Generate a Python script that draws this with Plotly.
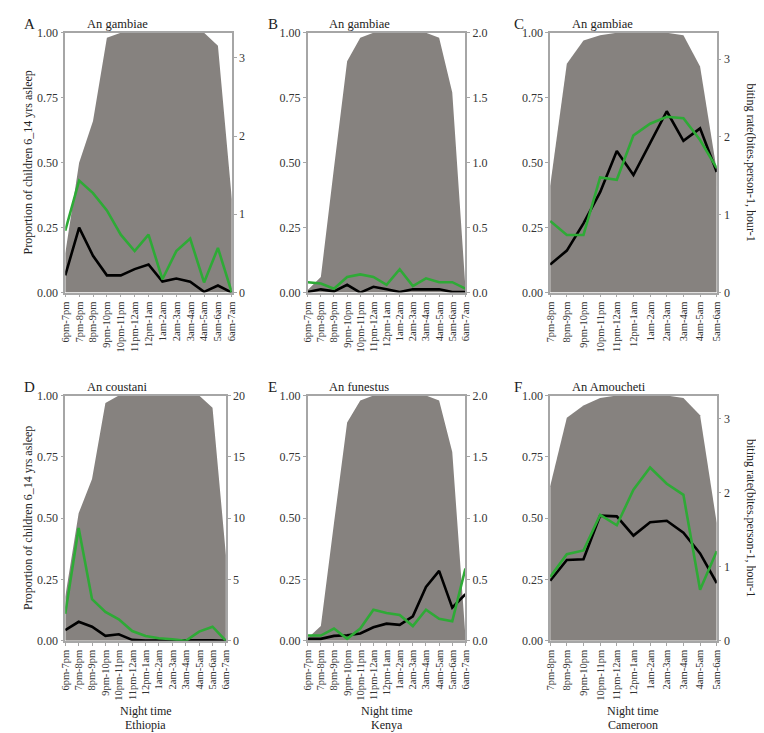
import plotly.graph_objects as go

W, H = 764, 733

cats_13 = ["6pm-7pm", "7pm-8pm", "8pm-9pm", "9pm-10pm", "10pm-11pm", "11pm-12am",
           "12pm-1am", "1am-2am", "2am-3am", "3am-4am", "4am-5am", "5am-6am", "6am-7am"]
cats_11 = ["7pm-8pm", "8pm-9pm", "9pm-10pm", "10pm-11pm", "11pm-12am",
           "12pm-1am", "1am-2am", "2am-3am", "3am-4am", "4am-5am", "5am-6am"]

# proportion of children asleep (left axis)
asleep_A = [0.15, 0.50, 0.66, 0.98, 1.0, 1.0, 1.0, 1.0, 1.0, 1.0, 1.0, 0.95, 0.36]
asleep_B = [0.01, 0.06, 0.48, 0.89, 0.98, 1.0, 1.0, 1.0, 1.0, 1.0, 0.98, 0.77, 0.02]
asleep_C = [0.41, 0.88, 0.97, 0.99, 1.0, 1.0, 1.0, 1.0, 0.99, 0.87, 0.47]
asleep_D = [0.18, 0.52, 0.66, 0.97, 1.0, 1.0, 1.0, 1.0, 1.0, 1.0, 1.0, 0.95, 0.35]
asleep_E = [0.01, 0.06, 0.48, 0.89, 0.98, 1.0, 1.0, 1.0, 1.0, 1.0, 0.98, 0.77, 0.02]
asleep_F = [0.63, 0.91, 0.96, 0.99, 1.0, 1.0, 1.0, 1.0, 0.99, 0.92, 0.48]

# biting rates (right axis)
green_A = [0.79, 1.43, 1.27, 1.05, 0.74, 0.53, 0.74, 0.17, 0.53, 0.69, 0.13, 0.57, 0.0]
black_A = [0.22, 0.83, 0.47, 0.22, 0.22, 0.30, 0.36, 0.14, 0.18, 0.14, 0.01, 0.09, 0.0]
green_B = [0.08, 0.07, 0.03, 0.12, 0.14, 0.12, 0.06, 0.18, 0.05, 0.11, 0.08, 0.08, 0.03]
black_B = [0.005, 0.025, 0.01, 0.06, 0.0, 0.045, 0.025, 0.005, 0.025, 0.025, 0.025, 0.005, 0.005]
green_C = [0.92, 0.74, 0.74, 1.48, 1.45, 2.02, 2.17, 2.26, 2.24, 1.96, 1.60]
black_C = [0.36, 0.54, 0.89, 1.29, 1.82, 1.51, 1.92, 2.33, 1.95, 2.11, 1.55]
green_D = [2.2, 9.2, 3.4, 2.35, 1.76, 0.8, 0.4, 0.21, 0.13, 0.0, 0.75, 1.15, 0.0]
black_D = [0.88, 1.55, 1.15, 0.4, 0.53, 0.08, 0.03, 0.02, 0.02, 0.05, 0.05, 0.05, 0.0]
green_E = [0.043, 0.043, 0.10, 0.016, 0.10, 0.254, 0.227, 0.21, 0.12, 0.254, 0.18, 0.16, 0.59]
black_E = [0.016, 0.016, 0.04, 0.045, 0.06, 0.11, 0.14, 0.13, 0.20, 0.44, 0.57, 0.27, 0.38]
green_F = [0.86, 1.17, 1.22, 1.70, 1.56, 2.04, 2.34, 2.12, 1.97, 0.69, 1.21]
black_F = [0.81, 1.09, 1.10, 1.69, 1.68, 1.42, 1.60, 1.62, 1.46, 1.18, 0.78]

left_ticks = [0, 0.25, 0.5, 0.75, 1.0]
left_labels = ["0.00", "0.25", "0.50", "0.75", "1.00"]
right_ticks_3 = [0, 1, 2, 3]
right_ticks_2 = [0, 0.5, 1.0, 1.5, 2.0]
right_labels_2 = ["0.0", "0.5", "1.0", "1.5", "2.0"]
right_ticks_20 = [0, 5, 10, 15, 20]

titles = ["An gambiae", "An gambiae", "An gambiae", "An coustani", "An funestus", "An Amoucheti"]
letters = ["A", "B", "C", "D", "E", "F"]
countries = ["Ethiopia", "Kenya", "Cameroon"]

panels = [
    dict(cats=cats_13, asleep=asleep_A, green=green_A, black=black_A, rmax=3.32,
         rt=right_ticks_3, rl=[str(v) for v in right_ticks_3], box=(52, 221, 18, 283)),
    dict(cats=cats_13, asleep=asleep_B, green=green_B, black=black_B, rmax=2.0,
         rt=right_ticks_2, rl=right_labels_2, box=(298, 458, 18, 283)),
    dict(cats=cats_11, asleep=asleep_C, green=green_C, black=black_C, rmax=3.34,
         rt=right_ticks_3, rl=[str(v) for v in right_ticks_3], box=(544, 713, 18, 283)),
    dict(cats=cats_13, asleep=asleep_D, green=green_D, black=black_D, rmax=20,
         rt=right_ticks_20, rl=[str(v) for v in right_ticks_20], box=(52, 215, 388, 638)),
    dict(cats=cats_13, asleep=asleep_E, green=green_E, black=black_E, rmax=2.0,
         rt=right_ticks_2, rl=right_labels_2, box=(298, 458, 388, 638)),
    dict(cats=cats_11, asleep=asleep_F, green=green_F, black=black_F, rmax=3.31,
         rt=right_ticks_3, rl=[str(v) for v in right_ticks_3], box=(544, 713, 388, 638)),
]

FONT = "Liberation Serif, DejaVu Serif, serif"
AXC = "#a6a6a6"
TXT = "#333333"
AREA = "rgb(134,130,127)"
GREEN = "#2eaa36"


def px_x(x):
    return x / W


def px_y(y):
    return 1 - y / H


fig = go.Figure()
layout = dict(width=W, height=H, margin=dict(l=0, r=0, t=0, b=0),
              paper_bgcolor="white", plot_bgcolor="white", showlegend=False,
              font=dict(family=FONT, size=12, color=TXT))
annotations = []

for i, p in enumerate(panels):
    n = i + 1
    xa = "x" if n == 1 else f"x{n}"
    ya = "y" if n == 1 else f"y{n}"
    yr = f"y{n + 6}"
    x0, x1, y0, y1 = p["box"]
    idx = list(range(len(p["cats"])))

    fig.add_trace(go.Scatter(x=idx, y=p["asleep"], xaxis=xa, yaxis=ya, mode="lines",
                             line=dict(width=0, color=AREA), fill="tozeroy",
                             fillcolor=AREA, hoverinfo="skip"))
    fig.add_trace(go.Scatter(x=idx, y=p["black"], xaxis=xa, yaxis=yr, mode="lines",
                             line=dict(width=2.6, color="black")))
    fig.add_trace(go.Scatter(x=idx, y=p["green"], xaxis=xa, yaxis=yr, mode="lines",
                             line=dict(width=2.6, color=GREEN)))

    xkey = "xaxis" if n == 1 else f"xaxis{n}"
    ykey = "yaxis" if n == 1 else f"yaxis{n}"
    rkey = f"yaxis{n + 6}"
    layout[xkey] = dict(domain=[px_x(x0), px_x(x1)], anchor=ya, range=[0, len(idx) - 1],
                        tickmode="array", tickvals=idx, ticktext=p["cats"], tickangle=-90,
                        showline=True, linecolor=AXC, linewidth=1.5, mirror=True,
                        ticks="outside", ticklen=3, tickcolor=AXC, showgrid=False,
                        zeroline=False, tickfont=dict(family=FONT, size=10.5, color=TXT))
    layout[ykey] = dict(domain=[px_y(y1), px_y(y0)], anchor=xa, range=[0, 1],
                        tickmode="array", tickvals=left_ticks, ticktext=left_labels,
                        showline=True, linecolor=AXC, linewidth=1.5, ticks="outside",
                        ticklen=3, tickcolor=AXC, showgrid=False, zeroline=False,
                        tickfont=dict(family=FONT, size=12, color=TXT))
    layout[rkey] = dict(overlaying=ya, anchor=xa, side="right", range=[0, p["rmax"]],
                        tickmode="array", tickvals=p["rt"], ticktext=p["rl"],
                        showline=True, linecolor=AXC, linewidth=1.5, ticks="outside",
                        ticklen=3, tickcolor=AXC, showgrid=False, zeroline=False,
                        tickfont=dict(family=FONT, size=12, color=TXT))

    # panel letter
    lx = [8, 256, 505][i % 3]
    annotations.append(dict(text=letters[i], x=px_x(lx), y=px_y(y0 - 9), xref="paper",
                            yref="paper", showarrow=False, xanchor="left", yanchor="middle",
                            font=dict(family=FONT, size=15, color="#222222")))
    # species title
    annotations.append(dict(text=titles[i], x=px_x(x0 + 20), y=px_y(y0 - 9), xref="paper",
                            yref="paper", showarrow=False, xanchor="left", yanchor="middle",
                            font=dict(family=FONT, size=12.5, color="#222222")))
    # left axis title
    if i % 3 == 0:
        annotations.append(dict(text="Proportion of children 6_14 yrs asleep", x=px_x(14),
                                y=px_y((y0 + y1) / 2), xref="paper", yref="paper",
                                showarrow=False, textangle=-90, xanchor="center",
                                yanchor="middle", font=dict(family=FONT, size=12, color="#222222")))
    # right axis title
    if i % 3 == 2:
        annotations.append(dict(text="biting rate(bites.person-1, hour-1", x=px_x(748),
                                y=px_y((y0 + y1) / 2), xref="paper", yref="paper",
                                showarrow=False, textangle=90, xanchor="center",
                                yanchor="middle", font=dict(family=FONT, size=12, color="#222222")))
    # bottom row x titles
    if i >= 3:
        annotations.append(dict(text="Night time", x=px_x((x0 + x1) / 2), y=px_y(710),
                                xref="paper", yref="paper", showarrow=False,
                                xanchor="center", yanchor="middle",
                                font=dict(family=FONT, size=12, color="#222222")))
        annotations.append(dict(text=countries[i - 3], x=px_x((x0 + x1) / 2), y=px_y(724),
                                xref="paper", yref="paper", showarrow=False,
                                xanchor="center", yanchor="middle",
                                font=dict(family=FONT, size=12, color="#222222")))

layout["annotations"] = annotations
fig.update_layout(**layout)
fig.write_html("out.html")
